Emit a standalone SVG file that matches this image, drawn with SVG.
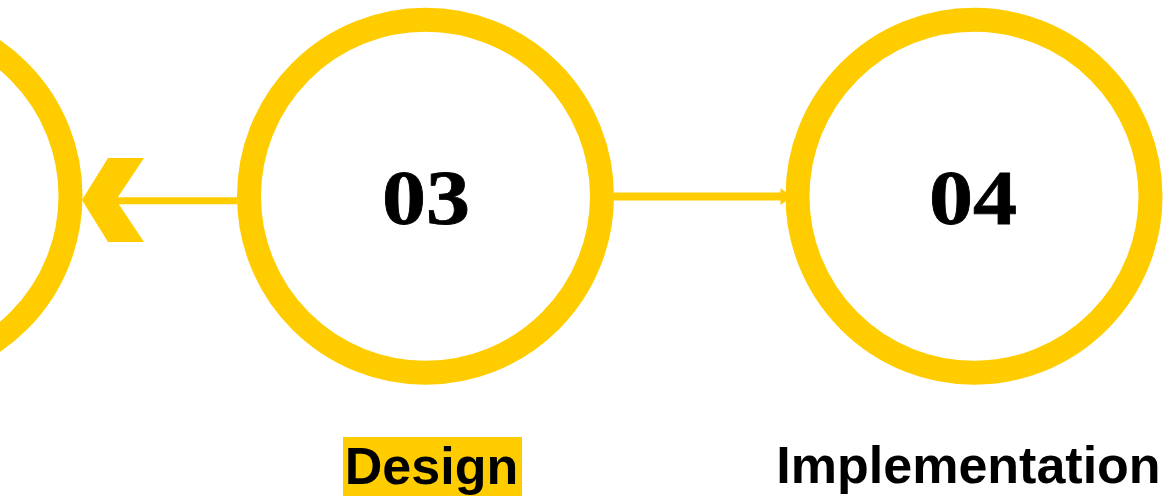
<svg xmlns="http://www.w3.org/2000/svg" width="1167" height="496" viewBox="0 0 1167 496">
  <style>
    .ring { fill: none; stroke: #FFCC00; stroke-width: 24; }
    .num { font-family: "Liberation Serif", "DejaVu Serif", serif; font-weight: bold; font-size: 79px; fill: #000; text-anchor: middle; stroke: #000; stroke-width: 0.8; }
    .label { font-family: "Liberation Sans", Arial, sans-serif; font-weight: bold; font-size: 52px; fill: #000; text-anchor: middle; }
    .line { stroke: #FFCC00; fill: none; }
    .head { fill: #FFCC00; }
  </style>
  <rect width="1167" height="496" fill="#ffffff"/>
  <g id="connectors">
    <line class="line" x1="237" y1="200.8" x2="112" y2="200.8" stroke-width="7"/>
    <polygon class="head" points="82,200 108,158 144,158 116,200 144,242 108,242"/>
    <line class="line" x1="614" y1="196.5" x2="781" y2="196.5" stroke-width="8"/>
    <polygon class="head" points="780.5,188.3 792,196.5 780.5,205"/>
  </g>
  <g id="node-02">
    <circle class="ring" cx="-106" cy="196" r="176.5"/>
  </g>
  <g id="node-03">
    <circle class="ring" cx="425.5" cy="196.2" r="176.5"/>
    <text class="num" x="426" y="223.5" textLength="88" lengthAdjust="spacingAndGlyphs">03</text>
    <rect x="343" y="437" width="179" height="59" fill="#FFCC00"/>
    <text class="label" x="431.5" y="483.5">Design</text>
  </g>
  <g id="node-04">
    <circle class="ring" cx="974" cy="196.2" r="176.5"/>
    <text class="num" x="973" y="223.5" textLength="88" lengthAdjust="spacingAndGlyphs">04</text>
    <text class="label" x="968.5" y="482.5" font-size="53">Implementation</text>
  </g>
</svg>
